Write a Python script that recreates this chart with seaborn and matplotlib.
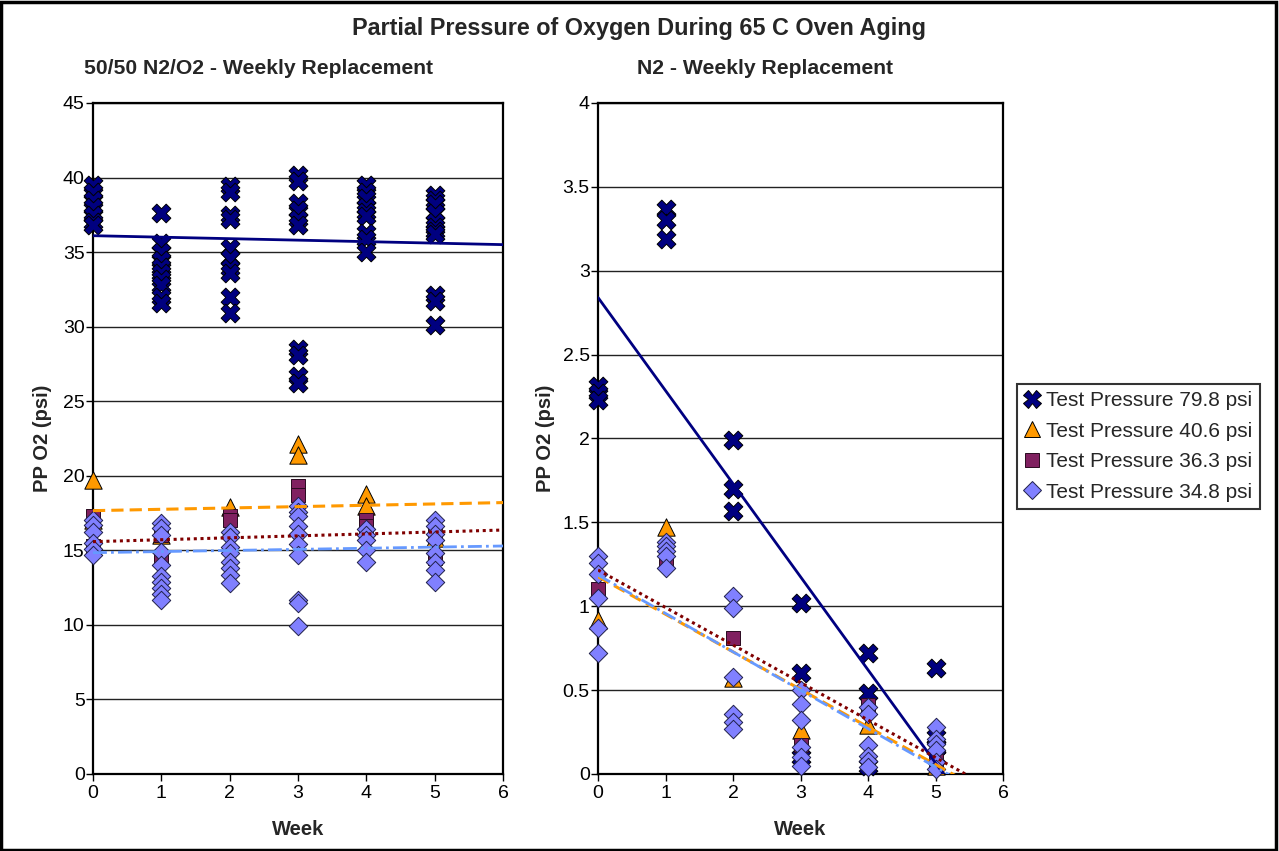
import numpy as np
import pandas as pd
import matplotlib
matplotlib.use("Agg")
import matplotlib.pyplot as plt
from matplotlib.patches import Rectangle
from matplotlib.lines import Line2D
import seaborn as sns

# ---------------- DATA ----------------
series_names = ["Test Pressure 79.8 psi", "Test Pressure 40.6 psi",
                "Test Pressure 36.3 psi", "Test Pressure 34.8 psi"]

# Left panel: 50/50 N2/O2 - Weekly Replacement
left_798_week = [0]*7 + [1]*10 + [2]*10 + [3]*10 + [4]*9 + [5]*11
left_798_pp = [39.5, 39.0, 38.5, 38.0, 37.5, 37.0, 36.8,
               37.6, 35.6, 35.0, 34.5, 34.0, 33.6, 33.2, 32.8, 32.0, 31.6,
               39.4, 39.0, 37.5, 37.2, 35.3, 34.6, 33.9, 33.6, 32.0, 30.9,
               40.2, 39.8, 38.3, 37.8, 37.2, 36.8, 28.5, 28.1, 26.7, 26.2,
               39.5, 39.0, 38.6, 38.0, 37.7, 37.4, 36.3, 35.9, 35.0,
               38.8, 38.5, 38.2, 37.6, 37.0, 36.7, 36.4, 36.2, 32.1, 31.7, 30.1]
left_406_week = [0, 0, 1, 2, 3, 3, 4, 4, 5]
left_406_pp = [19.7, 17.0, 16.0, 17.9, 22.1, 21.4, 18.8, 18.0, 15.8]
left_363_week = [0, 0, 1, 1, 2, 2, 3, 3, 4, 4, 5, 5]
left_363_pp = [17.3, 15.3, 14.4, 16.0, 17.3, 17.0, 19.3, 18.7, 17.0, 16.6, 14.5, 16.0]
left_348_week = [0]*6 + [1]*10 + [2]*8 + [3]*10 + [4]*5 + [5]*8
left_348_pp = [17.0, 16.7, 16.25, 15.5, 15.1, 14.7,
               16.8, 16.5, 16.0, 14.9, 14.0, 13.3, 12.9, 12.5, 12.1, 11.7,
               16.25, 15.9, 15.25, 14.8, 14.2, 13.8, 13.35, 12.8,
               18.0, 17.6, 17.3, 16.6, 16.1, 15.4, 14.7, 11.7, 11.45, 9.95,
               16.4, 16.0, 15.7, 15.0, 14.2,
               17.0, 16.6, 16.1, 15.7, 14.8, 14.2, 13.7, 12.9]
# linear trendlines (intercept, slope) as drawn in the reference
left_trend_intercept = [36.1, 17.66, 15.58, 14.84]
left_trend_slope = [-0.10, 0.09, 0.13, 0.075]

# Right panel: N2 - Weekly Replacement
right_798_week = [0, 0, 0, 1, 1, 1, 2, 2, 2, 3, 3, 3, 4, 4, 4, 5, 5, 5, 5]
right_798_pp = [2.31, 2.27, 2.23, 3.37, 3.30, 3.19, 1.99, 1.70, 1.57,
                1.02, 0.60, 0.10, 0.72, 0.48, 0.05, 0.63, 0.22, 0.16, 0.10]
right_406_week = [0, 1, 2, 3, 4, 5]
right_406_pp = [0.92, 1.47, 0.57, 0.26, 0.29, 0.05]
right_363_week = [0, 1, 2, 3, 4, 5]
right_363_pp = [1.10, 1.27, 0.81, 0.17, 0.41, 0.08]
right_348_week = [0]*6 + [1]*5 + [2]*6 + [3]*6 + [4]*6 + [5]*6
right_348_pp = [1.30, 1.26, 1.19, 1.05, 0.87, 0.72,
                1.38, 1.36, 1.33, 1.30, 1.23,
                1.06, 0.99, 0.58, 0.36, 0.31, 0.27,
                0.50, 0.42, 0.32, 0.16, 0.10, 0.05,
                0.40, 0.36, 0.17, 0.11, 0.08, 0.04,
                0.28, 0.21, 0.18, 0.14, 0.07, 0.03]
right_trend_intercept = [2.84, 1.176, 1.216, 1.186]
right_trend_slope = [-0.555, -0.224, -0.2236, -0.229]

weeks_axis = [0, 1, 2, 3, 4, 5, 6]

# ---------------- STYLE ----------------
sns.set_theme(style="white")
plt.rcParams['font.family'] = ['Liberation Sans', 'DejaVu Sans']

marker_styles = [
    dict(marker="X", color="#000080", edgecolor="#000000", s=13.5**2, linewidth=0.7),
    dict(marker="^", color="#FF9900", edgecolor="#000000", s=12.5**2, linewidth=0.7),
    dict(marker="s", color="#802060", edgecolor="#2a0a20", s=10.5**2, linewidth=0.7),
    dict(marker="D", color="#8080FF", edgecolor="#20204a", s=9.4**2, linewidth=0.7),
]
trend_styles = [
    dict(color="#000080", linestyle="-", linewidth=2.0),
    dict(color="#FF9900", linestyle=(0, (4, 2)), linewidth=2.2),
    dict(color="#800000", linestyle=(0, (1, 1.2)), linewidth=2.2),
    dict(color="#6699FF", linestyle=(0, (5, 1.5, 1, 1.5)), linewidth=2.0),
]

TICK_FS = 14
LABEL_FS = 14.5

fig = plt.figure(figsize=(12.79, 8.51), dpi=100)
fig.patch.set_facecolor("white")
axL = fig.add_axes([0.0727, 0.0905, 0.3206, 0.7885])
axR = fig.add_axes([0.4676, 0.0905, 0.3167, 0.7885])

left_sets = [(left_798_week, left_798_pp), (left_406_week, left_406_pp),
             (left_363_week, left_363_pp), (left_348_week, left_348_pp)]
right_sets = [(right_798_week, right_798_pp), (right_406_week, right_406_pp),
              (right_363_week, right_363_pp), (right_348_week, right_348_pp)]


def draw_panel(ax, sets, intercepts, slopes, ymax, ystep, ylabelpad):
    for (wk, pp), ms, name in zip(sets, marker_styles, series_names):
        df = pd.DataFrame({"Week": wk, "PP": pp})
        sns.scatterplot(data=df, x="Week", y="PP", ax=ax, clip_on=False,
                        zorder=3, legend=False, **ms)
    xs = np.array([weeks_axis[0], weeks_axis[-1]], dtype=float)
    for b, m, ts in zip(intercepts, slopes, trend_styles):
        tdf = pd.DataFrame({"Week": xs, "PP": b + m * xs})
        sns.lineplot(data=tdf, x="Week", y="PP", ax=ax, zorder=4, legend=False,
                     **ts)
    ax.set_xlim(0, 6)
    ax.set_ylim(0, ymax)
    ax.set_xticks(weeks_axis)
    ax.set_yticks(np.arange(0, ymax + ystep / 2, ystep))
    ax.yaxis.grid(True, color="#222222", linewidth=1.0)
    ax.set_axisbelow(True)
    for sp in ax.spines.values():
        sp.set_color("black")
        sp.set_linewidth(1.6)
    ax.tick_params(axis="both", which="major", direction="out", length=5,
                   width=1, color="black", labelsize=TICK_FS, labelcolor="black",
                   pad=1, left=True, bottom=True)
    ax.tick_params(axis="x", pad=3)
    ax.set_xlabel("Week", fontsize=LABEL_FS, fontweight="bold", labelpad=13)
    ax.set_ylabel("PP O2 (psi)", fontsize=LABEL_FS, fontweight="bold",
                  labelpad=ylabelpad)


draw_panel(axL, left_sets, left_trend_intercept, left_trend_slope, 45, 5, 7.5)
draw_panel(axR, right_sets, right_trend_intercept, right_trend_slope, 4, 0.5, 5.5)
axR.set_yticklabels(["0", "0.5", "1", "1.5", "2", "2.5", "3", "3.5", "4"])

fig.text(0.5, 0.967, "Partial Pressure of Oxygen During 65 C Oven Aging",
         ha="center", va="center", fontsize=16.8, fontweight="bold")
fig.text(0.2021, 0.919, "50/50 N2/O2 - Weekly Replacement",
         ha="center", va="center", fontsize=15.2, fontweight="bold")
fig.text(0.5985, 0.919, "N2 - Weekly Replacement",
         ha="center", va="center", fontsize=15.2, fontweight="bold")

handles = [Line2D([], [], linestyle="none", marker=ms["marker"],
                  markerfacecolor=ms["color"], markeredgecolor=ms["edgecolor"],
                  markeredgewidth=0.7, markersize=np.sqrt(ms["s"]) * 0.95)
           for ms in marker_styles]
leg = fig.legend(handles, series_names, loc="center left",
                 bbox_to_anchor=(0.795, 0.4753), fontsize=15, frameon=True,
                 fancybox=False, edgecolor="black", handlelength=0.8,
                 handletextpad=0.25, borderpad=0.35, labelspacing=0.55,
                 borderaxespad=0)
leg.get_frame().set_linewidth(1.5)

fig.patches.append(Rectangle((0.001, 0.001), 0.997, 0.997,
                             transform=fig.transFigure, fill=False,
                             edgecolor="black", linewidth=2.5))

fig.savefig("out.png", dpi=100, facecolor="white")
